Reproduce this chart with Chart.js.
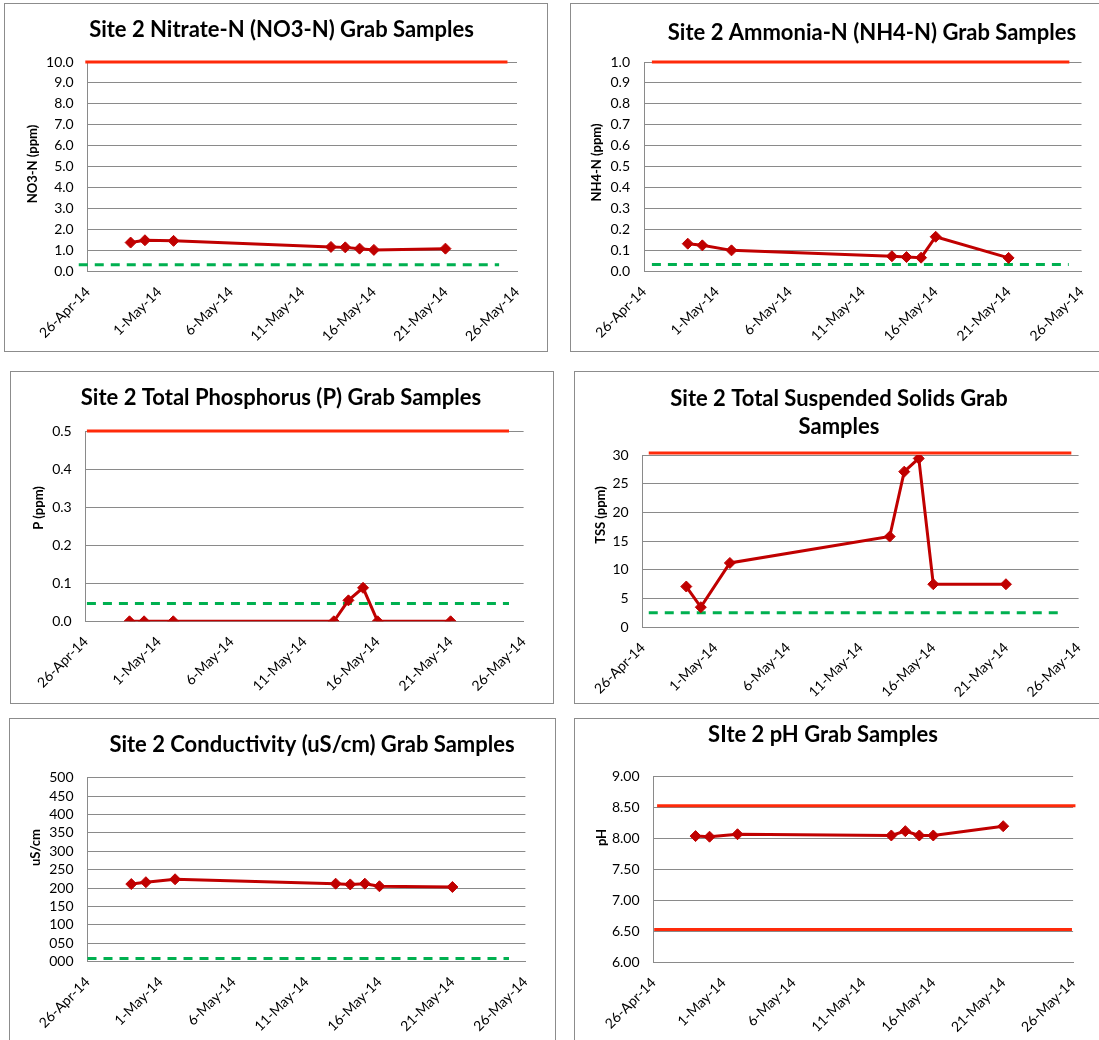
<!DOCTYPE html>
<html>
<head>
<meta charset="utf-8">
<title>Site 2 Grab Samples</title>
<script src="https://cdn.jsdelivr.net/npm/chart.js@4.4.1/dist/chart.umd.min.js"></script>
<style>
  html, body { margin: 0; padding: 0; background: #fff; overflow: hidden; }
  body { position: relative; width: 1099px; height: 1040px; }
  .box { position: absolute; border: 1px solid #8c8c8c; box-sizing: border-box; }
  canvas { position: absolute; }
</style>
</head>
<body>
<script>
// sampling dates (shared by all six parameters)
var sampleDates = ['2014-04-29', '2014-04-30', '2014-05-02', '2014-05-13',
                   '2014-05-14', '2014-05-15', '2014-05-16', '2014-05-21'];

// measured values
var no3Values  = [1.39, 1.50, 1.47, 1.18, 1.16, 1.10, 1.04, 1.10];
var nh4Values  = [0.132, 0.124, 0.100, 0.072, 0.068, 0.065, 0.165, 0.064];
var pValues    = [0, 0, 0, 0, 0.055, 0.088, 0, 0];
var tssValues  = [7.1, 3.5, 11.2, 15.8, 27.1, 29.4, 7.5, 7.5];
var condValues = [211, 216, 224, 212, 210, 212, 205, 203];
var phValues   = [8.04, 8.03, 8.07, 8.05, 8.12, 8.05, 8.05, 8.20];

// x axis: 26-Apr-14 .. 26-May-14, a tick every 5 days
var axisStart = '2014-04-26';
var axisEnd = '2014-05-26';
var tickEveryDays = 5;

// limit / reference lines: [value at start, value at end] and [start, end]
var no3Upper = [10, 10],        no3UpperSpan = ['2014-04-25 20:00', '2014-05-25 08:00'];
var no3Base = [0.33, 0.33],     no3BaseSpan = ['2014-04-25 09:00', '2014-05-24 18:00'];
var nh4Upper = [1.0, 1.0],      nh4UpperSpan = ['2014-04-26 13:00', '2014-05-25 04:00'];
var nh4Base = [0.033, 0.033],   nh4BaseSpan = ['2014-04-26 13:00', '2014-05-25 03:00'];
var pUpper = [0.5, 0.5],        pUpperSpan = ['2014-04-26 02:00', '2014-05-25 00:00'];
var pBase = [0.047, 0.047],     pBaseSpan = ['2014-04-26 02:00', '2014-05-25 00:00'];
var tssUpper = [30.35, 30.35],  tssUpperSpan = ['2014-04-26 10:00', '2014-05-25 12:00'];
var tssBase = [2.55, 2.55],     tssBaseSpan = ['2014-04-26 10:00', '2014-05-24 17:00'];
var condBase = [9, 9],          condBaseSpan = ['2014-04-26 00:00', '2014-05-24 21:00'];
var phUpper = [8.53, 8.53],     phUpperSpan = ['2014-04-26 06:00', '2014-05-26 04:00'];
var phLower = [6.53, 6.53],     phLowerSpan = ['2014-04-26 01:00', '2014-05-25 22:00'];

var MONTHS = ['Jan', 'Feb', 'Mar', 'Apr', 'May', 'Jun', 'Jul', 'Aug', 'Sep', 'Oct', 'Nov', 'Dec'];

function toUTC(s) {
    var p = s.split(/[- :]/).map(Number);
    return Date.UTC(p[0], p[1] - 1, p[2], p[3] || 0, p[4] || 0);
}
var t0 = toUTC(axisStart);
function dayOf(s) { return (toUTC(s) - t0) / 864e5; }
function dateLabel(v) {
    var d = new Date(t0 + v * 864e5);
    return d.getUTCDate() + '-' + MONTHS[d.getUTCMonth()] + '-' + String(d.getUTCFullYear()).slice(2);
}

Chart.defaults.font.family = 'Lato, "Noto Sans", sans-serif';
Chart.defaults.color = '#000';
Chart.defaults.animation = false;

var DATA_RED = '#c00000';
var LIMIT_RED = '#ff2a0a';
var BASE_GREEN = '#00b050';
var GRID = '#8a8a8a';
var TITLE_SIZE = 22;

// rotated y axis title, placed where the spreadsheet had it
var sideTitle = {
    id: 'sideTitle',
    afterDraw: function (chart, args, opts) {
        var ctx = chart.ctx;
        ctx.save();
        ctx.translate(opts.x, opts.y);
        ctx.rotate(-Math.PI / 2);
        ctx.font = 'bold 13px ' + Chart.defaults.font.family;
        ctx.fillStyle = '#000';
        ctx.textAlign = 'center';
        ctx.textBaseline = 'middle';
        ctx.fillText(opts.text, 0, 0);
        ctx.restore();
    }
};

function line(values) {
    return sampleDates.map(function (d, i) { return { x: dayOf(d), y: values[i] }; });
}
function limit(vals, span, color, dashed) {
    return {
        data: [{ x: dayOf(span[0]), y: vals[0] }, { x: dayOf(span[1]), y: vals[1] }],
        borderColor: color, borderWidth: 3, borderDash: dashed ? [9, 7] : [],
        pointRadius: 0, clip: false, tension: 0
    };
}

function makeChart(c) {
    var g = c.geom;
    var box = document.createElement('div');
    box.className = 'box';
    box.style.left = g.box[0] + 'px';
    box.style.top = g.box[1] + 'px';
    box.style.width = (g.box[2] - g.box[0]) + 'px';
    box.style.height = (g.box[3] - g.box[1]) + 'px';
    document.body.appendChild(box);

    var left = Math.min(g.box[0] + 1, 2 * g.titleX - g.plot[1] - 12);
    var right = 2 * g.titleX - left;
    var top = g.box[1] + 1;
    var bottom = Math.min(g.box[3] - 1, 1040);

    var canvas = document.createElement('canvas');
    canvas.width = Math.round(right - left);
    canvas.height = Math.round(bottom - top);
    canvas.style.left = left + 'px';
    canvas.style.top = top + 'px';
    document.body.appendChild(canvas);

    var lines = Array.isArray(c.title) ? c.title.length : 1;
    var lh = c.titleLine || 26;
    var padTop = g.titleY - top - lh / 2;
    var padBottom = g.plot[2] - top - padTop - lines * lh;
    var yWidth = g.plot[0] - left;
    var rWidth = right - g.plot[1];
    var xHeight = bottom - g.plot[3];

    var datasets = [{
        data: line(c.values),
        borderColor: DATA_RED, backgroundColor: DATA_RED,
        borderWidth: 3, tension: 0,
        pointStyle: 'rectRot', pointRadius: 5.5, pointBorderWidth: 1
    }].concat(c.limits);

    return new Chart(canvas, {
        type: 'line',
        data: { datasets: datasets },
        options: {
            responsive: false,
            layout: { padding: 0 },
            plugins: {
                legend: { display: false },
                tooltip: { enabled: false },
                title: {
                    display: true, text: c.title, color: '#000',
                    font: { size: TITLE_SIZE, weight: 'bold', lineHeight: lh / TITLE_SIZE },
                    padding: { top: padTop, bottom: padBottom }
                },
                sideTitle: { text: c.yTitle, x: g.yTitleX - left, y: g.yTitleY - top }
            },
            scales: {
                x: {
                    type: 'linear', min: dayOf(axisStart), max: dayOf(axisEnd),
                    grid: { display: false },
                    border: { display: true, color: GRID, width: 1 },
                    ticks: {
                        stepSize: tickEveryDays, autoSkip: false,
                        minRotation: 45, maxRotation: 45, padding: 4,
                        font: { size: 14 }, color: '#000',
                        callback: function (v) { return dateLabel(v); }
                    },
                    afterFit: function (s) { s.height = xHeight; }
                },
                y: {
                    type: 'linear', position: 'left', min: c.yMin, max: c.yMax,
                    grid: { color: GRID, lineWidth: 1, drawTicks: false },
                    border: { display: true, color: GRID, width: 1 },
                    ticks: {
                        stepSize: c.yStep, autoSkip: false, padding: 14,
                        font: { size: 14 }, color: '#000',
                        callback: c.fmt
                    },
                    afterFit: function (s) { s.width = yWidth; }
                },
                pad: {
                    type: 'linear', position: 'right', display: true,
                    grid: { display: false }, border: { display: false },
                    ticks: { display: false },
                    afterFit: function (s) { s.width = rWidth; }
                }
            }
        },
        plugins: [sideTitle]
    });
}

function fixed(n) { return function (v) { return Number(v).toFixed(n); }; }
function pad3(v) { return String(Math.round(v)).padStart(3, '0'); }

makeChart({
    title: 'Site 2 Nitrate-N (NO3-N) Grab Samples', yTitle: 'NO3-N (ppm)',
    values: no3Values, yMin: 0, yMax: 10, yStep: 1, fmt: fixed(1),
    limits: [limit(no3Upper, no3UpperSpan, LIMIT_RED), limit(no3Base, no3BaseSpan, BASE_GREEN, true)],
    geom: { box: [4, 3, 548, 352], plot: [87.7, 517, 62, 271.7], titleX: 281.5, titleY: 30, yTitleX: 32.6, yTitleY: 164 }
});
makeChart({
    title: 'Site 2 Ammonia-N (NH4-N) Grab Samples', yTitle: 'NH4-N (ppm)',
    values: nh4Values, yMin: 0, yMax: 1, yStep: 0.1, fmt: fixed(1),
    limits: [limit(nh4Upper, nh4UpperSpan, LIMIT_RED), limit(nh4Base, nh4BaseSpan, BASE_GREEN, true)],
    geom: { box: [570, 3, 1180, 352], plot: [644, 1081.5, 62, 271.3], titleX: 872, titleY: 33, yTitleX: 596.7, yTitleY: 162.5 }
});
makeChart({
    title: 'Site 2 Total Phosphorus (P) Grab Samples', yTitle: 'P (ppm)',
    values: pValues, yMin: 0, yMax: 0.5, yStep: 0.1, fmt: fixed(1),
    limits: [limit(pUpper, pUpperSpan, LIMIT_RED), limit(pBase, pBaseSpan, BASE_GREEN, true)],
    geom: { box: [10, 371, 554, 704], plot: [85.7, 523.6, 431, 621.3], titleX: 281, titleY: 398, yTitleX: 38.6, yTitleY: 508 }
});
makeChart({
    title: ['Site 2 Total Suspended Solids Grab', 'Samples'], titleLine: 28, yTitle: 'TSS (ppm)',
    values: tssValues, yMin: 0, yMax: 30, yStep: 5, fmt: fixed(0),
    limits: [limit(tssUpper, tssUpperSpan, LIMIT_RED), limit(tssBase, tssBaseSpan, BASE_GREEN, true)],
    geom: { box: [574, 371, 1180, 704], plot: [642.7, 1078.6, 455, 627.3], titleX: 839, titleY: 399, yTitleX: 600.8, yTitleY: 515 }
});
makeChart({
    title: 'Site 2 Conductivity (uS/cm) Grab Samples', yTitle: 'uS/cm',
    values: condValues, yMin: 0, yMax: 500, yStep: 50, fmt: pad3,
    limits: [limit(condBase, condBaseSpan, BASE_GREEN, true)],
    geom: { box: [9, 718, 556, 1060], plot: [87.5, 525.4, 777.7, 961.7], titleX: 312, titleY: 745, yTitleX: 35.7, yTitleY: 847.5 }
});
makeChart({
    title: 'SIte 2 pH Grab Samples', yTitle: 'pH',
    values: phValues, yMin: 6, yMax: 9, yStep: 0.5, fmt: fixed(2),
    limits: [limit(phUpper, phUpperSpan, LIMIT_RED), limit(phLower, phLowerSpan, LIMIT_RED)],
    geom: { box: [574, 718, 1180, 1060], plot: [653.6, 1077, 776.7, 962.3], titleX: 823, titleY: 735, yTitleX: 601.8, yTitleY: 837.5 }
});
</script>
</body>
</html>
